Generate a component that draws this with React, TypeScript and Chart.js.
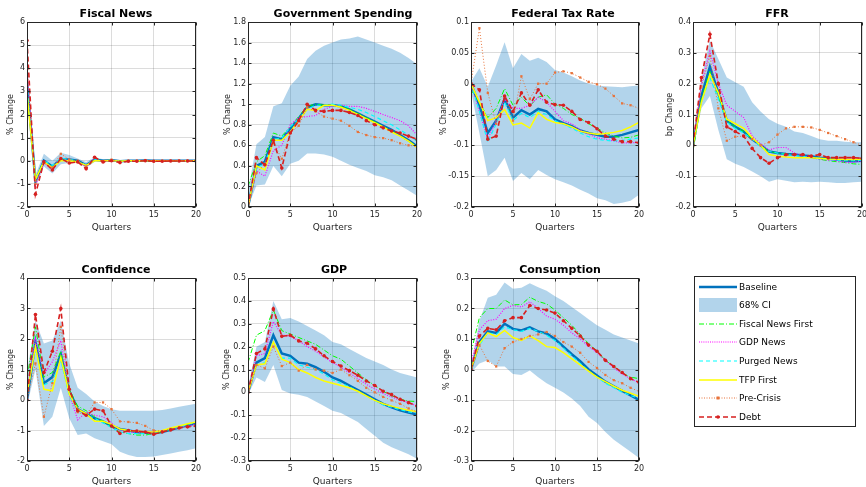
import React, { useEffect, useRef } from "react";
import { Chart, registerables } from "chart.js";

Chart.register(...registerables);

const FONT = "DejaVu Sans";
Chart.defaults.font.family = FONT;

// ---------- categories ----------
const QUARTERS = [0, 1, 2, 3, 4, 5, 6, 7, 8, 9, 10, 11, 12, 13, 14, 15, 16, 17, 18, 19, 20];
const X_TICKS = [0, 5, 10, 15, 20];

// ---------- Fiscal News ----------
const FN_BASE = [3.4, -0.9, 0.0, -0.25, 0.05, 0.05, 0.0, -0.2, 0.05, 0.0, 0.02, -0.02, 0.0, 0.0, 0.01, 0.0, 0.0, 0.0, 0.0, 0.0, 0.0];
const FN_HI = [3.6, -0.6, 0.3, 0.0, 0.35, 0.25, 0.1, -0.05, 0.15, 0.06, 0.08, 0.03, 0.03, 0.03, 0.03, 0.02, 0.02, 0.02, 0.02, 0.02, 0.02];
const FN_LO = [3.2, -1.1, -0.25, -0.55, -0.15, -0.1, -0.1, -0.3, -0.05, -0.05, -0.03, -0.06, -0.03, -0.03, -0.02, -0.03, -0.02, -0.02, -0.02, -0.02, -0.02];
const FN_FNF = [3.0, -0.8, -0.05, -0.3, 0.05, 0.05, -0.05, -0.2, 0.05, 0.0, 0.02, -0.02, 0.0, 0.0, 0.0, 0.0, 0.0, 0.0, 0.0, 0.0, 0.0];
const FN_GDPN = [4.0, -1.1, -0.1, -0.35, 0.1, 0.0, -0.05, -0.25, 0.1, -0.05, 0.02, -0.04, 0.0, 0.0, 0.01, -0.01, 0.0, 0.0, 0.0, 0.0, 0.0];
const FN_PURGED = [3.3, -0.85, 0.0, -0.2, 0.1, 0.05, 0.0, -0.2, 0.05, 0.0, 0.02, -0.02, 0.0, 0.0, 0.0, 0.0, 0.0, 0.0, 0.0, 0.0, 0.0];
const FN_TFP = [2.9, -0.8, -0.05, -0.3, 0.0, 0.0, -0.05, -0.2, 0.0, 0.0, 0.01, -0.02, 0.0, 0.0, 0.0, 0.0, 0.0, 0.0, 0.0, 0.0, 0.0];
const FN_PRE = [4.3, -1.0, -0.1, -0.3, 0.3, 0.05, 0.0, -0.25, 0.15, -0.05, 0.05, -0.05, 0.0, 0.0, 0.03, -0.02, 0.0, 0.0, 0.0, 0.0, 0.0];
const FN_DEBT = [5.2, -1.45, -0.05, -0.4, 0.1, -0.1, -0.05, -0.35, 0.15, -0.05, 0.0, -0.08, -0.02, -0.02, 0.0, -0.02, -0.02, -0.01, -0.01, -0.01, -0.01];
const FN_TICKS = [-2, -1, 0, 1, 2, 3, 4, 5, 6];

// ---------- Government Spending ----------
const GS_BASE = [0, 0.4, 0.44, 0.68, 0.66, 0.76, 0.86, 0.97, 1.0, 0.99, 0.99, 0.98, 0.95, 0.91, 0.87, 0.83, 0.79, 0.75, 0.7, 0.65, 0.59];
const GS_HI = [0.15, 0.61, 0.68, 0.98, 1.01, 1.18, 1.27, 1.44, 1.52, 1.57, 1.6, 1.63, 1.64, 1.66, 1.63, 1.6, 1.57, 1.54, 1.5, 1.45, 1.39];
const GS_LO = [0.0, 0.21, 0.22, 0.4, 0.3, 0.42, 0.45, 0.52, 0.52, 0.51, 0.49, 0.45, 0.41, 0.38, 0.35, 0.31, 0.29, 0.26, 0.21, 0.16, 0.11];
const GS_FNF = [0.2, 0.44, 0.5, 0.72, 0.69, 0.78, 0.88, 0.98, 1.0, 0.99, 0.99, 0.98, 0.95, 0.91, 0.87, 0.83, 0.78, 0.74, 0.69, 0.64, 0.59];
const GS_GDPN = [0.0, 0.35, 0.3, 0.55, 0.6, 0.8, 0.87, 0.88, 0.89, 0.95, 0.98, 0.99, 0.98, 0.98, 0.96, 0.93, 0.9, 0.87, 0.84, 0.79, 0.7];
const GS_PURGED = [0.0, 0.38, 0.42, 0.66, 0.67, 0.78, 0.86, 0.95, 0.99, 0.99, 1.0, 0.99, 0.97, 0.95, 0.92, 0.88, 0.84, 0.8, 0.75, 0.7, 0.64];
const GS_TFP = [0.0, 0.4, 0.36, 0.65, 0.65, 0.73, 0.84, 0.95, 0.94, 0.99, 0.99, 0.97, 0.94, 0.9, 0.86, 0.82, 0.78, 0.73, 0.69, 0.64, 0.58];
const GS_PRE = [0.0, 0.33, 0.42, 0.62, 0.47, 0.72, 0.79, 0.97, 0.93, 0.88, 0.86, 0.84, 0.79, 0.73, 0.7, 0.68, 0.67, 0.65, 0.62, 0.6, 0.59];
const GS_DEBT = [0.0, 0.48, 0.41, 0.65, 0.38, 0.72, 0.84, 1.0, 0.94, 0.93, 0.94, 0.94, 0.92, 0.89, 0.84, 0.8, 0.77, 0.74, 0.72, 0.69, 0.66];
const GS_TICKS = [0, 0.2, 0.4, 0.6, 0.8, 1, 1.2, 1.4, 1.6, 1.8];

// ---------- Federal Tax Rate ----------
const TR_BASE = [0, -0.035, -0.08, -0.06, -0.025, -0.055, -0.043, -0.05, -0.041, -0.045, -0.058, -0.064, -0.069, -0.076, -0.08, -0.083, -0.086, -0.086, -0.083, -0.079, -0.075];
const TR_HI = [0.003, 0.025, -0.005, 0.03, 0.067, 0.025, 0.048, 0.037, 0.042, 0.035, 0.022, 0.018, 0.012, 0.005, 0.0, -0.003, -0.004, -0.005, -0.006, -0.004, -0.003];
const TR_LO = [-0.012, -0.08, -0.15, -0.14, -0.12, -0.158, -0.145, -0.155, -0.14, -0.148, -0.155, -0.16, -0.165, -0.172, -0.178, -0.186, -0.189, -0.195, -0.193, -0.19, -0.18];
const TR_FNF = [-0.01, -0.03, -0.055, -0.04, -0.008, -0.035, -0.022, -0.036, -0.022, -0.018, -0.033, -0.04, -0.05, -0.056, -0.065, -0.072, -0.08, -0.085, -0.088, -0.087, -0.083];
const TR_GDPN = [0, -0.045, -0.09, -0.06, -0.025, -0.04, -0.04, -0.035, -0.022, -0.03, -0.045, -0.06, -0.065, -0.075, -0.082, -0.088, -0.09, -0.093, -0.096, -0.096, -0.095];
const TR_PURGED = [0, -0.045, -0.095, -0.065, -0.03, -0.06, -0.048, -0.055, -0.045, -0.05, -0.06, -0.066, -0.072, -0.08, -0.086, -0.09, -0.092, -0.093, -0.092, -0.09, -0.088];
const TR_TFP = [0, -0.03, -0.06, -0.055, -0.042, -0.067, -0.064, -0.072, -0.047, -0.058, -0.063, -0.065, -0.07, -0.077, -0.08, -0.082, -0.081, -0.079, -0.076, -0.07, -0.063];
const TR_PRE = [0, 0.09, -0.015, -0.065, -0.02, -0.06, 0.012, -0.025, 0.0, 0.0, 0.018, 0.02, 0.017, 0.01, 0.003, -0.001, -0.008, -0.02, -0.032, -0.035, -0.04];
const TR_DEBT = [0, -0.01, -0.09, -0.085, -0.02, -0.045, -0.015, -0.035, -0.01, -0.03, -0.034, -0.035, -0.045, -0.058, -0.063, -0.073, -0.085, -0.09, -0.094, -0.094, -0.096];
const TR_TICKS = [-0.2, -0.15, -0.1, -0.05, 0, 0.05, 0.1];

// ---------- FFR ----------
const FFR_BASE = [0, 0.16, 0.255, 0.17, 0.08, 0.06, 0.045, 0.02, 0.0, -0.02, -0.025, -0.028, -0.03, -0.033, -0.035, -0.04, -0.043, -0.046, -0.05, -0.052, -0.05];
const FFR_HI = [0.0, 0.22, 0.34, 0.28, 0.22, 0.205, 0.19, 0.14, 0.11, 0.085, 0.07, 0.06, 0.045, 0.04, 0.03, 0.02, 0.015, 0.015, 0.012, 0.01, 0.01];
const FFR_LO = [-0.01, 0.12, 0.16, 0.05, -0.045, -0.06, -0.07, -0.085, -0.1, -0.118, -0.11, -0.115, -0.12, -0.118, -0.12, -0.118, -0.12, -0.122, -0.122, -0.12, -0.118];
const FFR_FNF = [-0.02, 0.15, 0.24, 0.16, 0.08, 0.06, 0.045, 0.02, 0.0, -0.02, -0.025, -0.028, -0.03, -0.035, -0.04, -0.045, -0.05, -0.053, -0.056, -0.06, -0.062];
const FFR_GDPN = [0, 0.2, 0.305, 0.2, 0.13, 0.11, 0.09, 0.03, 0.005, -0.015, -0.007, -0.007, -0.025, -0.035, -0.04, -0.045, -0.048, -0.05, -0.055, -0.055, -0.05];
const FFR_PURGED = [0, 0.14, 0.22, 0.15, 0.075, 0.055, 0.04, 0.02, -0.005, -0.02, -0.025, -0.03, -0.033, -0.036, -0.04, -0.043, -0.046, -0.048, -0.05, -0.05, -0.048];
const FFR_TFP = [0, 0.14, 0.23, 0.17, 0.085, 0.07, 0.055, 0.025, 0.0, -0.03, -0.035, -0.038, -0.04, -0.04, -0.04, -0.042, -0.044, -0.045, -0.046, -0.046, -0.045];
const FFR_PRE = [0, 0.19, 0.29, 0.12, 0.015, 0.028, 0.03, 0.02, 0.0, 0.01, 0.035, 0.055, 0.06, 0.06, 0.058, 0.05, 0.04, 0.03, 0.02, 0.01, 0.0];
const FFR_DEBT = [0, 0.22, 0.36, 0.2, 0.06, 0.045, 0.03, -0.01, -0.04, -0.058, -0.04, -0.03, -0.03, -0.03, -0.035, -0.03, -0.04, -0.04, -0.04, -0.04, -0.042];
const FFR_TICKS = [-0.2, -0.1, 0, 0.1, 0.2, 0.3, 0.4];

// ---------- Confidence ----------
const CF_BASE = [0, 1.9, 0.55, 0.75, 1.5, 0.3, -0.3, -0.45, -0.6, -0.7, -0.85, -0.95, -1.0, -1.05, -1.07, -1.08, -1.05, -0.98, -0.9, -0.83, -0.76];
const CF_HI = [0.9, 2.6, 1.85, 1.95, 2.6, 1.2, 0.4, 0.2, -0.05, -0.2, -0.3, -0.35, -0.35, -0.35, -0.35, -0.35, -0.33, -0.28, -0.22, -0.17, -0.12];
const CF_LO = [-0.2, 1.0, -0.85, -0.55, 0.4, -0.6, -1.15, -1.1, -1.25, -1.35, -1.45, -1.7, -1.8, -1.87, -1.87, -1.85, -1.8, -1.75, -1.7, -1.65, -1.58];
const CF_FNF = [0.7, 2.4, 0.75, 0.9, 1.6, 0.35, -0.2, -0.35, -0.55, -0.7, -0.9, -1.05, -1.1, -1.15, -1.15, -1.1, -1.05, -0.95, -0.88, -0.8, -0.72];
const CF_GDPN = [0.3, 2.0, 0.85, 1.25, 1.95, 0.2, -0.65, -0.4, -0.5, -0.55, -0.75, -1.0, -1.05, -1.05, -1.05, -1.05, -1.02, -0.95, -0.9, -0.85, -0.8];
const CF_PURGED = [0.2, 1.7, 0.5, 0.6, 1.3, 0.15, -0.35, -0.5, -0.6, -0.75, -0.9, -1.05, -1.1, -1.1, -1.1, -1.1, -1.05, -0.95, -0.88, -0.8, -0.73];
const CF_TFP = [0.2, 1.75, 0.35, 0.3, 1.4, 0.2, -0.3, -0.45, -0.7, -0.7, -0.8, -0.95, -1.0, -1.02, -1.05, -1.05, -1.0, -0.92, -0.85, -0.78, -0.72];
const CF_PRE = [0, 1.2, -0.55, 0.55, 2.4, 0.35, -0.4, -0.5, -0.08, -0.08, -0.3, -0.7, -0.72, -0.75, -0.85, -1.0, -1.02, -0.95, -0.9, -0.88, -0.85];
const CF_DEBT = [0, 2.8, 0.9, 1.6, 3.0, 0.35, -0.35, -0.5, -0.3, -0.35, -0.85, -1.1, -1.0, -1.02, -1.05, -1.12, -1.05, -0.98, -0.92, -0.88, -0.85];
const CF_TICKS = [-2, -1, 0, 1, 2, 3, 4];

// ---------- GDP ----------
const GDP_BASE = [0, 0.13, 0.15, 0.25, 0.17, 0.16, 0.13, 0.125, 0.11, 0.09, 0.065, 0.05, 0.03, 0.01, -0.01, -0.03, -0.05, -0.065, -0.078, -0.088, -0.097];
const GDP_HI = [0.02, 0.2, 0.22, 0.4, 0.32, 0.325, 0.31, 0.29, 0.27, 0.25, 0.22, 0.21, 0.19, 0.17, 0.15, 0.135, 0.12, 0.1, 0.085, 0.075, 0.065];
const GDP_LO = [-0.01, 0.065, 0.045, 0.12, 0.01, -0.005, -0.01, -0.02, -0.04, -0.06, -0.08, -0.09, -0.11, -0.13, -0.16, -0.19, -0.22, -0.24, -0.255, -0.27, -0.29];
const GDP_FNF = [0.13, 0.25, 0.27, 0.36, 0.27, 0.255, 0.24, 0.225, 0.21, 0.185, 0.16, 0.145, 0.115, 0.085, 0.055, 0.03, 0.005, -0.015, -0.03, -0.038, -0.04];
const GDP_GDPN = [0, 0.16, 0.17, 0.31, 0.25, 0.245, 0.225, 0.2, 0.18, 0.155, 0.13, 0.11, 0.085, 0.06, 0.035, 0.015, -0.005, -0.02, -0.035, -0.045, -0.06];
const GDP_PURGED = [0, 0.12, 0.13, 0.22, 0.15, 0.15, 0.12, 0.11, 0.1, 0.08, 0.055, 0.04, 0.025, 0.005, -0.015, -0.035, -0.055, -0.065, -0.075, -0.085, -0.09];
const GDP_TFP = [0, 0.12, 0.125, 0.22, 0.145, 0.13, 0.1, 0.085, 0.065, 0.05, 0.04, 0.03, 0.02, 0.005, -0.015, -0.035, -0.05, -0.06, -0.07, -0.078, -0.085];
const GDP_PRE = [0, 0.12, 0.105, 0.2, 0.115, 0.13, 0.095, 0.12, 0.1, 0.095, 0.085, 0.1, 0.075, 0.05, 0.02, 0.0, -0.02, -0.035, -0.05, -0.07, -0.085];
const GDP_DEBT = [0, 0.17, 0.19, 0.365, 0.245, 0.25, 0.225, 0.215, 0.19, 0.16, 0.135, 0.115, 0.095, 0.075, 0.05, 0.03, 0.005, -0.01, -0.03, -0.045, -0.06];
const GDP_TICKS = [-0.3, -0.2, -0.1, 0, 0.1, 0.2, 0.3, 0.4, 0.5];

// ---------- Consumption ----------
const CS_BASE = [0, 0.09, 0.125, 0.12, 0.15, 0.133, 0.128, 0.138, 0.125, 0.118, 0.1, 0.075, 0.05, 0.027, 0.0, -0.02, -0.04, -0.055, -0.07, -0.085, -0.1];
const CS_HI = [0.01, 0.16, 0.235, 0.245, 0.285, 0.265, 0.268, 0.283, 0.27, 0.258, 0.24, 0.225, 0.205, 0.185, 0.165, 0.145, 0.13, 0.115, 0.105, 0.095, 0.085];
const CS_LO = [-0.01, 0.02, 0.03, 0.01, 0.01, -0.015, -0.018, -0.003, -0.025, -0.045, -0.06, -0.075, -0.095, -0.12, -0.155, -0.175, -0.205, -0.23, -0.25, -0.27, -0.29];
const CS_FNF = [0.055, 0.17, 0.2, 0.2, 0.228, 0.212, 0.213, 0.237, 0.223, 0.215, 0.195, 0.17, 0.145, 0.115, 0.085, 0.06, 0.03, 0.01, -0.012, -0.025, -0.03];
const CS_GDPN = [0.02, 0.13, 0.16, 0.165, 0.2, 0.21, 0.205, 0.222, 0.2, 0.175, 0.165, 0.145, 0.12, 0.1, 0.075, 0.055, 0.03, 0.005, -0.015, -0.03, -0.045];
const CS_PURGED = [0, 0.08, 0.12, 0.115, 0.14, 0.13, 0.125, 0.135, 0.125, 0.112, 0.095, 0.07, 0.045, 0.02, -0.005, -0.025, -0.045, -0.06, -0.075, -0.085, -0.095];
const CS_TFP = [0, 0.085, 0.12, 0.108, 0.128, 0.105, 0.095, 0.11, 0.095, 0.075, 0.072, 0.055, 0.035, 0.015, -0.005, -0.025, -0.04, -0.055, -0.068, -0.078, -0.088];
const CS_PRE = [0, 0.08, 0.028, 0.01, 0.07, 0.09, 0.1, 0.11, 0.115, 0.123, 0.11, 0.09, 0.075, 0.055, 0.025, 0.005, -0.018, -0.035, -0.045, -0.06, -0.072];
const CS_DEBT = [0, 0.11, 0.135, 0.13, 0.16, 0.17, 0.17, 0.21, 0.2, 0.195, 0.185, 0.16, 0.135, 0.11, 0.08, 0.06, 0.03, 0.01, -0.01, -0.03, -0.042];
const CS_TICKS = [-0.3, -0.2, -0.1, 0, 0.1, 0.2, 0.3];

// ---------- styles ----------
const BAND = "rgba(0,114,189,0.3)";
const GRID = "rgba(38,38,38,0.16)";
const AXIS = "#262626";
const C_BASE = "#0072BD";
const C_FNF = "#00FF00";
const C_GDPN = "#FF00FF";
const C_PURGED = "#00FFFF";
const C_TFP = "#FFFF00";
const C_PRE = "#E8733A";
const C_DEBT = "#D62020";

type PanelDef = {
  title: string;
  ylabel: string;
  ticks: number[];
  series: number[][]; // base, hi, lo, fnf, gdpn, purged, tfp, pre, debt
  l: number; r: number; t: number; b: number; yw: number;
  tx: number; ty: number;
};

const PANELS: PanelDef[] = [
  { title: "Fiscal News", ylabel: "% Change", ticks: FN_TICKS, series: [FN_BASE, FN_HI, FN_LO, FN_FNF, FN_GDPN, FN_PURGED, FN_TFP, FN_PRE, FN_DEBT], l: 27, r: 196, t: 22, b: 207, yw: 21, tx: 116, ty: 13 },
  { title: "Government Spending", ylabel: "% Change", ticks: GS_TICKS, series: [GS_BASE, GS_HI, GS_LO, GS_FNF, GS_GDPN, GS_PURGED, GS_TFP, GS_PRE, GS_DEBT], l: 248, r: 417, t: 22, b: 207, yw: 25, tx: 343, ty: 13 },
  { title: "Federal Tax Rate", ylabel: "% Change", ticks: TR_TICKS, series: [TR_BASE, TR_HI, TR_LO, TR_FNF, TR_GDPN, TR_PURGED, TR_TFP, TR_PRE, TR_DEBT], l: 471, r: 639, t: 22, b: 207, yw: 32, tx: 563, ty: 13 },
  { title: "FFR", ylabel: "bp Change", ticks: FFR_TICKS, series: [FFR_BASE, FFR_HI, FFR_LO, FFR_FNF, FFR_GDPN, FFR_PURGED, FFR_TFP, FFR_PRE, FFR_DEBT], l: 693, r: 862, t: 22, b: 207, yw: 28, tx: 777, ty: 13 },
  { title: "Confidence", ylabel: "% Change", ticks: CF_TICKS, series: [CF_BASE, CF_HI, CF_LO, CF_FNF, CF_GDPN, CF_PURGED, CF_TFP, CF_PRE, CF_DEBT], l: 27, r: 196, t: 278, b: 461, yw: 21, tx: 116, ty: 269 },
  { title: "GDP", ylabel: "% Change", ticks: GDP_TICKS, series: [GDP_BASE, GDP_HI, GDP_LO, GDP_FNF, GDP_GDPN, GDP_PURGED, GDP_TFP, GDP_PRE, GDP_DEBT], l: 248, r: 417, t: 278, b: 461, yw: 26, tx: 334, ty: 269 },
  { title: "Consumption", ylabel: "% Change", ticks: CS_TICKS, series: [CS_BASE, CS_HI, CS_LO, CS_FNF, CS_GDPN, CS_PURGED, CS_TFP, CS_PRE, CS_DEBT], l: 471, r: 639, t: 278, b: 461, yw: 29, tx: 560, ty: 269 },
];

const PAD = { left: 4, top: 14, right: 14, bottom: 2 };
const XAXIS_H = 26;

const fmt = (v: number) => String(parseFloat(Number(v).toFixed(4)));

const framePlugin = {
  id: "matlabFrame",
  afterDatasetsDraw(chart: any) {
    const { ctx, chartArea } = chart;
    const l = Math.round(chartArea.left) + 0.5;
    const r = Math.round(chartArea.right) - 0.5;
    const t = Math.round(chartArea.top) + 0.5;
    const b = Math.round(chartArea.bottom) - 0.5;
    ctx.save();
    ctx.strokeStyle = AXIS;
    ctx.lineWidth = 1;
    ctx.strokeRect(l, t, r - l, b - t);
    const xs = chart.scales.x;
    const ys = chart.scales.y;
    ctx.beginPath();
    xs.ticks.forEach((tk: any) => {
      const px = Math.round(xs.getPixelForValue(tk.value)) + 0.5;
      ctx.moveTo(px, b); ctx.lineTo(px, b - 3);
      ctx.moveTo(px, t); ctx.lineTo(px, t + 3);
    });
    ys.ticks.forEach((tk: any) => {
      const py = Math.round(ys.getPixelForValue(tk.value)) + 0.5;
      ctx.moveTo(l, py); ctx.lineTo(l + 3, py);
      ctx.moveTo(r, py); ctx.lineTo(r - 3, py);
    });
    ctx.stroke();
    ctx.restore();
  },
};

function line(label: string, data: number[], color: string, width: number, dash: number[], order: number, extra: any = {}) {
  return {
    label, data, borderColor: color, backgroundColor: color, borderWidth: width, borderDash: dash,
    pointRadius: 0, fill: false, order, tension: 0, ...extra,
  };
}

function Panel({ p }: { p: PanelDef }) {
  const ref = useRef<HTMLCanvasElement | null>(null);
  const L = p.l - p.yw - PAD.left;
  const T = p.t - PAD.top;
  const W = p.r + PAD.right - L;
  const H = p.b + XAXIS_H + PAD.bottom - T;

  useEffect(() => {
    const [base, hi, lo, fnf, gdpn, purged, tfp, pre, debt] = p.series;
    const chart = new Chart(ref.current as HTMLCanvasElement, {
      type: "line",
      data: {
        labels: QUARTERS,
        datasets: [
          { label: "CI upper", data: hi, borderWidth: 0, pointRadius: 0, fill: "+1", backgroundColor: BAND, borderColor: "rgba(0,0,0,0)", order: 20 },
          { label: "CI lower", data: lo, borderWidth: 0, pointRadius: 0, fill: false, borderColor: "rgba(0,0,0,0)", order: 20 },
          line("Baseline", base, C_BASE, 2.5, [], 8),
          line("Fiscal News First", fnf, C_FNF, 1, [5, 2, 1, 2], 7),
          line("GDP News", gdpn, C_GDPN, 1.2, [1, 1.5], 6),
          line("Purged News", purged, C_PURGED, 1.2, [4, 3], 5),
          line("TFP First", tfp, C_TFP, 1.5, [], 4),
          line("Pre-Crisis", pre, C_PRE, 1, [1, 2], 3, { pointRadius: 1.6, pointStyle: "rect", pointBorderWidth: 0 }),
          line("Debt", debt, C_DEBT, 1.6, [5, 3], 2, { pointRadius: 1.8, pointStyle: "circle", pointBorderWidth: 0 }),
        ] as any,
      },
      options: {
        responsive: false,
        animation: false,
        events: [],
        layout: { padding: PAD },
        plugins: { legend: { display: false }, tooltip: { enabled: false }, title: { display: false } },
        scales: {
          x: {
            type: "linear",
            min: 0,
            max: 20,
            afterBuildTicks: (s: any) => { s.ticks = X_TICKS.map((v) => ({ value: v })); },
            afterFit: (s: any) => { s.height = XAXIS_H; },
            ticks: { font: { family: FONT, size: 8 }, color: AXIS, padding: 3, autoSkip: false, maxRotation: 0, callback: (v: any) => fmt(v) },
            grid: { color: GRID, drawTicks: false, lineWidth: 1 },
            border: { display: false },
            title: { display: true, text: "Quarters", font: { family: FONT, size: 9 }, color: AXIS, padding: 0 },
          },
          y: {
            type: "linear",
            min: p.ticks[0],
            max: p.ticks[p.ticks.length - 1],
            afterBuildTicks: (s: any) => { s.ticks = p.ticks.map((v) => ({ value: v })); },
            afterFit: (s: any) => { s.width = p.yw; },
            ticks: { font: { family: FONT, size: 8 }, color: AXIS, padding: 2, autoSkip: false, callback: (v: any) => fmt(v) },
            grid: { color: GRID, drawTicks: false, lineWidth: 1 },
            border: { display: false },
            title: { display: true, text: p.ylabel, font: { family: FONT, size: 8 }, color: AXIS, padding: 0 },
          },
        },
      } as any,
      plugins: [framePlugin],
    });
    return () => chart.destroy();
  }, []);

  return (
    <>
      <canvas ref={ref} width={W} height={H} style={{ position: "absolute", left: L, top: T, width: W, height: H }} />
      <div style={{ position: "absolute", left: p.tx, top: p.ty, transform: "translate(-50%, -50%)", fontFamily: FONT, fontWeight: "bold", fontSize: 11, color: "#000", whiteSpace: "nowrap", lineHeight: "13px" }}>
        {p.title}
      </div>
    </>
  );
}

const LEGEND_NAMES = ["Baseline", "68% CI", "Fiscal News First", "GDP News", "Purged News", "TFP First", "Pre-Crisis", "Debt"];

function LegendSample({ i }: { i: number }) {
  const w = 38, h = 18, y = 9;
  let el: any = null;
  if (i === 0) el = <line x1={0} y1={y} x2={w} y2={y} stroke={C_BASE} strokeWidth={2.5} />;
  if (i === 1) el = <rect x={0} y={y - 7} width={w} height={14} fill={BAND} />;
  if (i === 2) el = <line x1={0} y1={y} x2={w} y2={y} stroke={C_FNF} strokeWidth={1} strokeDasharray="5 2 1 2" />;
  if (i === 3) el = <line x1={0} y1={y} x2={w} y2={y} stroke={C_GDPN} strokeWidth={1.2} strokeDasharray="1 1.2" />;
  if (i === 4) el = <line x1={0} y1={y} x2={w} y2={y} stroke={C_PURGED} strokeWidth={1.2} strokeDasharray="4 3" />;
  if (i === 5) el = <line x1={0} y1={y} x2={w} y2={y} stroke={C_TFP} strokeWidth={1.5} />;
  if (i === 6)
    el = (
      <g>
        <line x1={0} y1={y} x2={w} y2={y} stroke={C_PRE} strokeWidth={1} strokeDasharray="1 1.5" />
        <rect x={w / 2 - 1.5} y={y - 1.5} width={3} height={3} fill={C_PRE} />
      </g>
    );
  if (i === 7)
    el = (
      <g>
        <line x1={0} y1={y} x2={w} y2={y} stroke={C_DEBT} strokeWidth={1.5} strokeDasharray="5 3" />
        <circle cx={w / 2} cy={y} r={1.8} fill={C_DEBT} />
      </g>
    );
  return (
    <svg width={w} height={h} style={{ position: "absolute", left: 4, top: 0 }}>
      {el}
    </svg>
  );
}

function Legend() {
  return (
    <div style={{ position: "absolute", left: 694, top: 276, width: 162, height: 151, boxSizing: "border-box", border: `1px solid ${AXIS}`, background: "#fff" }}>
      {LEGEND_NAMES.map((n, i) => (
        <div key={n} style={{ position: "absolute", left: 0, top: 10.5 + 18.6 * i - 9 - 1, height: 18, width: 160 }}>
          <LegendSample i={i} />
          <span style={{ position: "absolute", left: 44, top: 0, lineHeight: "18px", fontFamily: FONT, fontSize: 9, color: "#000", whiteSpace: "nowrap" }}>{n}</span>
        </div>
      ))}
    </div>
  );
}

export default function App() {
  return (
    <div style={{ position: "fixed", left: 0, top: 0, width: 866, height: 487, overflow: "hidden", background: "#fff" }}>
      {PANELS.map((p) => (
        <Panel key={p.title} p={p} />
      ))}
      <Legend />
    </div>
  );
}
